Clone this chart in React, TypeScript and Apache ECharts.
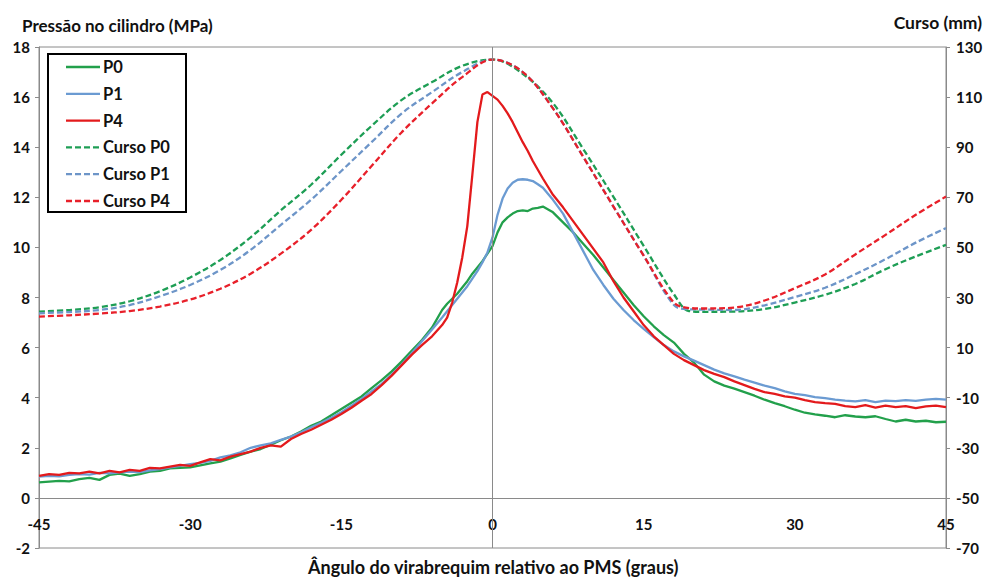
import React, { useEffect, useRef } from "react";
import * as echarts from "echarts";

// Crank angle relative to TDC (degrees) for the pressure traces
const pressureAngles = [
  -45, -44, -43, -42, -41, -40, -39, -38, -37, -36, -35, -34, -33, -32, -31, -30, -29, -28, -27, -26,
  -25, -24, -23, -22, -21, -20, -19, -18, -17, -16, -15, -14, -13, -12, -11, -10, -9, -8, -7, -6,
  -5, -4.5, -4, -3.5, -3, -2.5, -2, -1.5, -1, -0.5, 0, 0.5, 1, 1.5, 2, 2.5, 3, 3.5, 4, 4.5, 5,
  6, 7, 8, 9, 10, 11, 12, 13, 14, 15, 16, 17, 18, 19, 20, 21, 22, 23, 24, 25,
  26, 27, 28, 29, 30, 31, 32, 33, 34, 35, 36, 37, 38, 39, 40, 41, 42, 43, 44, 45,
];

// Cylinder pressure (MPa)
const p0 = [
  0.62, 0.65, 0.68, 0.66, 0.75, 0.8, 0.72, 0.92, 0.97, 0.88, 0.95, 1.05, 1.08, 1.18, 1.2, 1.22, 1.3, 1.38, 1.45, 1.58,
  1.72, 1.85, 1.95, 2.12, 2.3, 2.45, 2.65, 2.88, 3.05, 3.3, 3.55, 3.8, 4.05, 4.38, 4.7, 5.05, 5.45, 5.88, 6.3, 6.8,
  7.5, 7.75, 7.95, 8.15, 8.4, 8.65, 8.95, 9.2, 9.45, 9.75, 10.05, 10.6, 11.0, 11.2, 11.35, 11.45, 11.48, 11.45, 11.55, 11.58, 11.63,
  11.4, 11.0, 10.6, 10.15, 9.7, 9.2, 8.7, 8.2, 7.7, 7.25, 6.85, 6.5, 6.2, 5.75, 5.4, 4.92, 4.65, 4.48, 4.36, 4.22,
  4.08, 3.92, 3.78, 3.66, 3.52, 3.4, 3.33, 3.28, 3.22, 3.3, 3.25, 3.22, 3.26, 3.15, 3.05, 3.12, 3.05, 3.08, 3.02, 3.04,
];
const p1 = [
  0.85, 0.88, 0.86, 0.92, 0.95, 0.93, 1.0, 0.98, 1.02, 1.05, 1.03, 1.1, 1.15, 1.22, 1.28, 1.35, 1.4, 1.48, 1.62, 1.7,
  1.82, 2.0, 2.1, 2.18, 2.32, 2.45, 2.62, 2.82, 3.0, 3.2, 3.42, 3.68, 3.95, 4.25, 4.55, 4.92, 5.33, 5.78, 6.25, 6.72,
  7.2, 7.45, 7.7, 7.95, 8.2, 8.45, 8.75, 9.05, 9.4, 9.8, 10.4, 11.3, 11.95, 12.35, 12.58, 12.7, 12.72, 12.7, 12.65, 12.52, 12.38,
  11.9, 11.35, 10.6, 9.85, 9.1, 8.5, 7.95, 7.5, 7.1, 6.75, 6.42, 6.1, 5.85, 5.65, 5.48, 5.3, 5.12, 4.97, 4.85, 4.72,
  4.6, 4.48, 4.38, 4.25, 4.15, 4.1, 4.02, 3.98, 3.92, 3.88, 3.85, 3.9, 3.82, 3.88, 3.86, 3.9, 3.87, 3.92, 3.95, 3.92,
];
const p4 = [
  0.88, 0.95, 0.92, 1.0, 0.98, 1.05, 0.98, 1.08, 1.02, 1.12, 1.08, 1.2, 1.18, 1.25, 1.32, 1.28, 1.42, 1.55, 1.5, 1.65,
  1.75, 1.85, 2.0, 2.1, 2.05, 2.35, 2.55, 2.72, 2.92, 3.12, 3.35, 3.6, 3.88, 4.15, 4.5, 4.88, 5.3, 5.72, 6.1, 6.45,
  6.9, 7.2, 7.8, 8.6, 9.6, 10.85, 12.9, 15.0, 16.1, 16.2, 16.05, 15.9, 15.65, 15.35, 15.0, 14.6, 14.2, 13.85, 13.45, 13.1, 12.75,
  12.1, 11.6, 11.05, 10.5, 9.95, 9.4, 8.65, 8.0, 7.45, 6.9, 6.45, 6.1, 5.75, 5.5, 5.3, 5.1, 4.95, 4.82, 4.65, 4.5,
  4.35, 4.22, 4.15, 4.05, 4.0, 3.9, 3.82, 3.78, 3.75, 3.66, 3.62, 3.7, 3.6, 3.68, 3.62, 3.66, 3.58, 3.65, 3.68, 3.62,
];

// Crank angle for the stroke (curso) traces
const cursoAngles = [
  -45, -42, -39, -36, -33, -30, -27, -24, -21, -18, -15, -12, -9, -6, -3, 0,
  3, 6, 9, 12, 15, 18, 19.5, 21, 24, 27, 30, 33, 36, 39, 42, 45,
];
// Stroke (mm)
const cursoP0 = [
  24.4, 25.0, 26.1, 28.5, 32.5, 38.0, 45.0, 54.0, 64.8, 75.0, 87.0, 98.5, 108.9, 116.0, 122.5, 125.0,
  119.3, 107.6, 89.3, 70.2, 50.6, 31.3, 24.6, 24.3, 24.4, 25.4, 28.0, 31.1, 35.4, 41.3, 46.4, 51.0,
];
const cursoP1 = [
  23.7, 24.2, 25.0, 27.0, 30.5, 35.0, 41.0, 49.0, 59.0, 69.0, 80.5, 92.0, 103.5, 112.0, 120.0, 125.0,
  120.0, 105.5, 86.2, 66.3, 46.7, 27.0, 25.3, 25.2, 25.0, 26.9, 30.2, 33.9, 39.3, 45.3, 51.9, 57.7,
];
const cursoP4 = [
  22.4, 22.9, 23.6, 24.6, 26.4, 29.2, 33.5, 39.5, 47.5, 57.0, 69.0, 82.5, 96.0, 107.5, 118.0, 125.0,
  120.0, 105.5, 86.2, 66.3, 46.7, 28.0, 25.8, 25.6, 26.0, 28.8, 33.7, 39.2, 47.2, 55.0, 63.0, 70.3,
];

const seriesNames = ["P0", "P1", "P4", "Curso P0", "Curso P1", "Curso P4"];
const seriesColors = ["#22a04b", "#6b9bd2", "#e31a1c", "#1e9e55", "#6d95c8", "#e8202a"];
const leftTitle = "Pressão no cilindro (MPa)";
const rightTitle = "Curso (mm)";
const xTitle = "Ângulo do virabrequim relativo ao PMS (graus)";

const FONT = "Lato";
const AXIS_GRAY = "#8a8a8a";
const TEXT = "#111111";
const DASH = [6, 3];

export default function App() {
  const ref = useRef<HTMLDivElement | null>(null);

  useEffect(() => {
    if (!ref.current) return;
    const chart = echarts.init(ref.current, undefined, { renderer: "svg" });

    const pairs = (xs: number[], ys: number[]) => xs.map((x, i) => [x, ys[i]]);
    const labelStyle = { fontFamily: FONT, fontWeight: "bold" as const, fontSize: 15, color: TEXT };

    const solid = (i: number, ys: number[], extra: any = {}) => ({
      name: seriesNames[i],
      type: "line",
      yAxisIndex: 0,
      data: pairs(pressureAngles, ys),
      symbol: "none",
      showSymbol: false,
      lineStyle: { color: seriesColors[i], width: 2.3 },
      itemStyle: { color: seriesColors[i] },
      ...extra,
    });
    const dashed = (i: number, ys: number[]) => ({
      name: seriesNames[i],
      type: "line",
      yAxisIndex: 1,
      data: pairs(cursoAngles, ys),
      symbol: "none",
      showSymbol: false,
      smooth: 0.35,
      lineStyle: { color: seriesColors[i], width: 2.3, type: DASH },
      itemStyle: { color: seriesColors[i] },
    });

    // Legend drawn as graphic elements (line sample + label), inside a framed box
    const legendTop = 67;
    const legendStep = 26.8;
    const legendItems: any[] = [];
    seriesNames.forEach((name, i) => {
      const yc = legendTop + i * legendStep;
      legendItems.push({
        type: "line",
        z: 101,
        shape: { x1: 66, y1: yc, x2: 100, y2: yc },
        style: {
          stroke: seriesColors[i],
          lineWidth: 2.3,
          lineDash: i >= 3 ? DASH : null,
        },
      });
      legendItems.push({
        type: "text",
        z: 101,
        x: 103,
        y: yc,
        style: {
          text: name,
          font: `bold 16.5px ${FONT}`,
          fill: TEXT,
          align: "left",
          verticalAlign: "middle",
        },
      });
    });

    const option: any = {
      animation: false,
      textStyle: { fontFamily: FONT },
      grid: {
        left: 39,
        right: 41,
        top: 47,
        bottom: 33,
        show: true,
        borderColor: AXIS_GRAY,
        borderWidth: 1,
        backgroundColor: "transparent",
      },
      xAxis: [
        {
          type: "value",
          min: -45,
          max: 45,
          interval: 15,
          axisLine: { onZero: true, onZeroAxisIndex: 0, lineStyle: { color: AXIS_GRAY, width: 1 } },
          axisTick: { show: false },
          splitLine: { show: false },
          axisLabel: { show: false },
        },
        {
          type: "value",
          position: "bottom",
          offset: -32,
          min: -45,
          max: 45,
          interval: 15,
          axisLine: { show: false, onZero: false },
          axisTick: { show: false },
          splitLine: { show: false },
          axisLabel: { ...labelStyle, margin: 0 },
        },
      ],
      yAxis: [
        {
          type: "value",
          position: "left",
          min: -2,
          max: 18,
          interval: 2,
          axisLine: { show: true, onZero: false, lineStyle: { color: AXIS_GRAY, width: 1 } },
          axisTick: { show: true, length: 4, lineStyle: { color: AXIS_GRAY } },
          splitLine: { show: false },
          axisLabel: { ...labelStyle, margin: 9 },
        },
        {
          type: "value",
          position: "right",
          min: -70,
          max: 130,
          interval: 20,
          axisLine: { show: true, onZero: false, lineStyle: { color: AXIS_GRAY, width: 1 } },
          axisTick: { show: true, length: 4, lineStyle: { color: AXIS_GRAY } },
          splitLine: { show: false },
          axisLabel: { ...labelStyle, margin: 10 },
        },
      ],
      graphic: [
        {
          type: "text",
          left: 22,
          top: 17,
          style: { text: leftTitle, font: `bold 17px ${FONT}`, fill: TEXT },
        },
        {
          type: "text",
          right: 5,
          top: 13,
          style: { text: rightTitle, font: `bold 17.5px ${FONT}`, fill: TEXT },
        },
        {
          type: "text",
          left: "center",
          top: 558,
          style: { text: xTitle, font: `bold 18px ${FONT}`, fill: TEXT },
        },
        {
          type: "rect",
          z: 100,
          shape: { x: 48, y: 54, width: 138, height: 158 },
          style: { fill: "#ffffff", stroke: "#000000", lineWidth: 2 },
        },
        ...legendItems,
      ],
      series: [
        solid(0, p0, {
          markLine: {
            silent: true,
            symbol: ["none", "none"],
            label: { show: false },
            lineStyle: { color: AXIS_GRAY, width: 1, type: "solid" },
            data: [{ xAxis: 0 }],
          },
        }),
        solid(1, p1),
        solid(2, p4),
        dashed(3, cursoP0),
        dashed(4, cursoP1),
        dashed(5, cursoP4),
      ],
    };

    chart.setOption(option);
    return () => chart.dispose();
  }, []);

  return (
    <div
      ref={ref}
      style={{ position: "fixed", left: 0, top: 0, width: 987, height: 581, background: "#fff" }}
    />
  );
}
